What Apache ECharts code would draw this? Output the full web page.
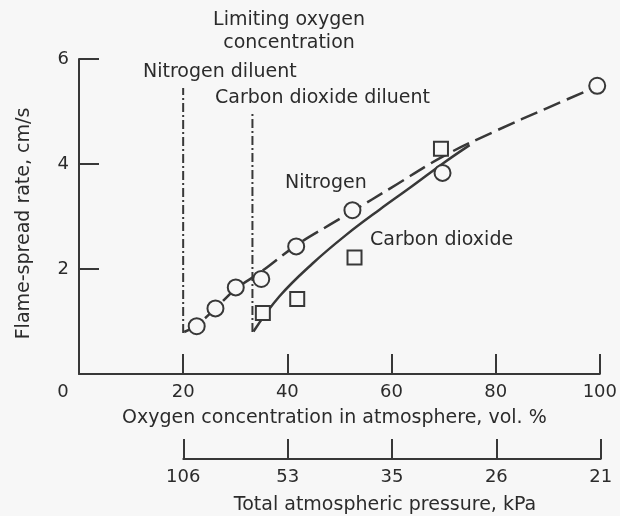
<!DOCTYPE html>
<html><head><meta charset="utf-8">
<script src="https://cdn.jsdelivr.net/npm/echarts@6/dist/echarts.min.js"></script>
<style>html,body{margin:0;padding:0;background:#f7f7f7}#c{width:620px;height:516px}</style>
</head><body><div id="c"></div>
<script>
// ---- data ----
const oxygenTicks = [0, 20, 40, 60, 80, 100];
const pressureTicks = ['106', '53', '35', '26', '21'];
const rateTicks = [0, 2, 4, 6];

// measured points
const n2X = [22.6, 26.2, 30.1, 35.0, 41.7, 52.5, 69.8, 99.5];
const n2Y = [0.91, 1.25, 1.65, 1.81, 2.43, 3.12, 3.83, 5.49];
const co2X = [35.3, 41.9, 52.9, 69.5];
const co2Y = [1.16, 1.43, 2.22, 4.29];

// fitted curves
const n2CurveX = [20.2, 22.6, 26.2, 30.1, 35, 41.7, 48.1, 52.5, 60, 70, 80, 90, 100];
const n2CurveY = [0.8, 0.93, 1.25, 1.62, 1.95, 2.45, 2.84, 3.1, 3.55, 4.15, 4.63, 5.07, 5.5];
const co2CurveX = [33.5, 38.5, 44.9, 51.3, 57.7, 64, 70, 75];
const co2CurveY = [0.81, 1.48, 2.11, 2.65, 3.13, 3.58, 4.02, 4.36];

// limiting oxygen concentration lines
const limN2X = [20, 20];
const limN2Y = [0.78, 5.45];
const limCO2X = [33.3, 33.3];
const limCO2Y = [0.8, 5.0];

// ---- chart ----
const INK = '#383838';
const TXT = '#2b2b2b';
const BG = '#f7f7f7';
const FONT = 'DejaVu Sans';
const zip = (xs, ys) => xs.map((x, i) => [x, ys[i]]);

const chart = echarts.init(document.getElementById('c'), null, {renderer: 'canvas'});
const axisCommon = {
  axisLine: {show: true, lineStyle: {color: INK, width: 2}},
  axisTick: {show: true, inside: true, length: 20, lineStyle: {color: INK, width: 2}},
  splitLine: {show: false}
};
const txt = (x, y, text, align) => ({
  type: 'text', silent: true,
  style: {x: x, y: y, text: text, fontFamily: FONT, fontSize: 19, fill: TXT, align: align, verticalAlign: 'middle'}
});

chart.setOption({
  backgroundColor: BG,
  animation: false,
  grid: [
    {left: 79, right: 19.3, top: 59, bottom: 142},
    {left: 183.3, right: 19.3, top: 400, bottom: 54.3}
  ],
  xAxis: [
    Object.assign({
      type: 'value', gridIndex: 0, min: oxygenTicks[0], max: oxygenTicks[oxygenTicks.length - 1], interval: 20,
      name: 'Oxygen concentration in atmosphere, vol. %', nameLocation: 'middle', nameGap: 35,
      nameTextStyle: {fontFamily: FONT, fontSize: 19, color: TXT, padding: [0, 10, 0, 0]},
      axisLabel: {
        fontFamily: FONT, fontSize: 18, color: TXT, margin: 9,
        formatter: v => v === 0 ? '{o|0}' : String(v),
        rich: {o: {fontFamily: FONT, fontSize: 18, color: TXT, padding: [0, 32, 0, 0]}}
      }
    }, axisCommon),
    Object.assign({
      type: 'value', gridIndex: 1, min: 20, max: 100, interval: 20,
      name: 'Total atmospheric pressure, kPa', nameLocation: 'middle', nameGap: 37,
      nameTextStyle: {fontFamily: FONT, fontSize: 19, color: TXT, padding: [0, 14, 0, 0]},
      axisLabel: {
        fontFamily: FONT, fontSize: 18, color: TXT, margin: 9,
        formatter: v => pressureTicks[Math.round((v - 20) / 20)]
      }
    }, axisCommon)
  ],
  yAxis: [
    Object.assign({
      type: 'value', gridIndex: 0, min: rateTicks[0], max: rateTicks[rateTicks.length - 1], interval: 2,
      name: 'Flame-spread rate, cm/s', nameLocation: 'middle', nameGap: 45, nameRotate: 90,
      nameTextStyle: {fontFamily: FONT, fontSize: 19, color: TXT, padding: [0, 14, 0, 0]},
      axisLabel: {fontFamily: FONT, fontSize: 18, color: TXT, margin: 10, showMinLabel: false}
    }, axisCommon),
    {type: 'value', gridIndex: 1, min: 0, max: 1, show: false}
  ],
  graphic: [
    txt(289, 20, 'Limiting oxygen', 'center'),
    txt(289, 43, 'concentration', 'center'),
    txt(143, 72, 'Nitrogen diluent', 'left'),
    txt(215, 98, 'Carbon dioxide diluent', 'left'),
    txt(285, 183, 'Nitrogen', 'left'),
    txt(370, 240, 'Carbon dioxide', 'left')
  ],
  series: [
    {type: 'line', name: 'N2 limit', data: zip(limN2X, limN2Y), showSymbol: false, silent: true, z: 1,
      lineStyle: {color: INK, width: 2, type: [9, 3, 2, 3]}},
    {type: 'line', name: 'CO2 limit', data: zip(limCO2X, limCO2Y), showSymbol: false, silent: true, z: 1,
      lineStyle: {color: INK, width: 2, type: [9, 3, 2, 3]}},
    {type: 'line', name: 'Nitrogen curve', data: zip(n2CurveX, n2CurveY), smooth: 0.4, showSymbol: false, silent: true, z: 2,
      lineStyle: {color: INK, width: 2.5, type: [18, 7]}},
    {type: 'line', name: 'CO2 curve', data: zip(co2CurveX, co2CurveY), smooth: 0.4, showSymbol: false, silent: true, z: 2,
      lineStyle: {color: INK, width: 2.5}},
    {type: 'scatter', name: 'Nitrogen', data: zip(n2X, n2Y), symbol: 'circle', symbolSize: 16, z: 3,
      itemStyle: {color: BG, borderColor: INK, borderWidth: 2, opacity: 1}},
    {type: 'scatter', name: 'Carbon dioxide', data: zip(co2X, co2Y), symbol: 'rect', symbolSize: 14, z: 3,
      itemStyle: {color: BG, borderColor: INK, borderWidth: 2, opacity: 1}}
  ]
});
</script></body></html>
